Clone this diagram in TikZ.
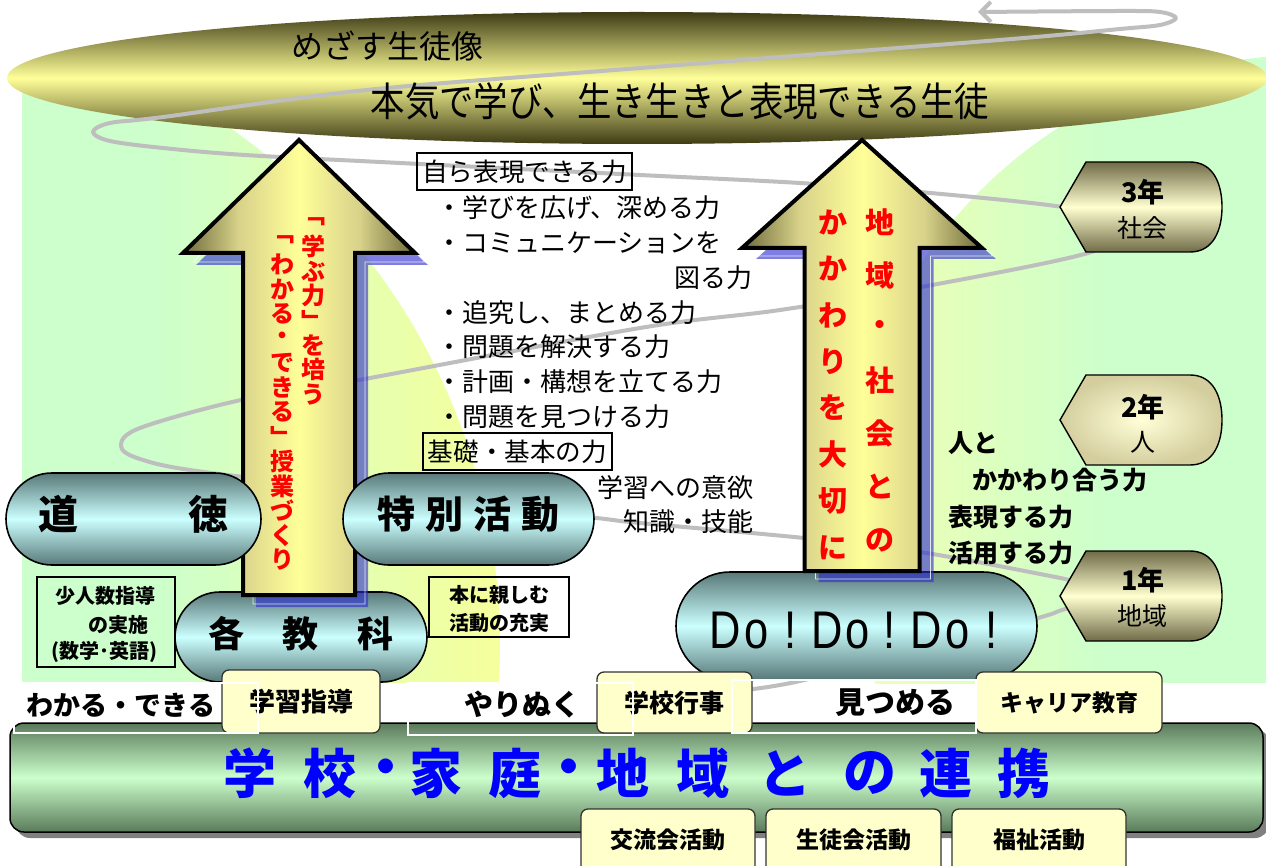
\documentclass[tikz,border=0pt]{standalone}
\usepackage{fontspec}
\usepackage{graphicx}
\setmainfont{Noto Sans CJK JP}
\newfontfamily\lat{Liberation Sans}
\usetikzlibrary{arrows.meta}
\definecolor{bgG}{HTML}{CCFFCC}
\definecolor{bgY}{HTML}{F6FF9C}
\definecolor{bgY2}{HTML}{F2FFB0}
\definecolor{ellD}{HTML}{3E3B15}
\definecolor{ellY}{HTML}{FFFF99}
\definecolor{pillD}{HTML}{587878}
\definecolor{pillL}{HTML}{CCFFFF}
\definecolor{barD}{HTML}{5A7A5A}
\definecolor{barL}{HTML}{CCFFCC}
\definecolor{tagD}{HTML}{6F6B47}
\definecolor{tagL}{HTML}{FFFFD0}
\definecolor{tagO}{HTML}{D4CE9E}
\definecolor{tagI}{HTML}{FFFFD8}
\definecolor{arD}{HTML}{6F6A3A}
\definecolor{arM}{HTML}{D8D28A}
\definecolor{arY}{HTML}{FFFF99}
\definecolor{shB}{HTML}{2A2AD0}
\definecolor{boxY}{HTML}{FFFFCC}
\definecolor{lineG}{HTML}{BEBEBE}
\definecolor{txtBlue}{HTML}{0000FF}
\pgfdeclarehorizontalshading{arrsh}{100bp}{color(0bp)=(arD); color(25bp)=(arD); color(37bp)=(arM); color(50bp)=(arY); color(63bp)=(arM); color(75bp)=(arD); color(100bp)=(arD)}
\newcommand\fsz[1]{\fontsize{#1pt}{#1pt}\selectfont}
\newcommand\tagpath[1]{(1060,#1) -- (1086,#1-45) -- (1190,#1-45) .. controls (1214,#1-45) and (1222,#1-22) .. (1222,#1) .. controls (1222,#1+22) and (1214,#1+45) .. (1190,#1+45) -- (1086,#1+45) -- cycle}
\newcommand\uparrowpath[6]{(#1,#2) -- (#1+#3,#4) -- (#1+#5,#4) -- (#1+#5,#6) -- (#1-#5,#6) -- (#1-#5,#4) -- (#1-#3,#4) -- cycle}
\begin{document}
\begin{tikzpicture}[x=1pt,y=-1pt,
  txt/.style={inner sep=0pt, outer sep=0pt},
  pill/.style={draw=black, line width=1.6pt, top color=pillD, bottom color=pillD, middle color=pillL, inner sep=0pt},
  tagA/.style={draw=black, line width=1.4pt, top color=tagD, bottom color=tagD, middle color=tagL},
  tagB/.style={draw=black, line width=1.4pt, inner color=tagI, outer color=tagO},
  ybox/.style={draw=black!80, line width=1.3pt, fill=boxY, rounded corners=7pt, inner sep=0pt},
  kbox/.style={draw=black, line width=1.6pt, inner sep=0pt},
  wbox/.style={draw=white, line width=1.5pt, inner sep=0pt},
  redv/.style={text=red, inner sep=0pt, font=\bfseries},
  spiral/.style={draw=lineG, line width=4pt, line cap=round, line join=round},
  shadowpath/.style={fill=shB, fill opacity=0.6},
  shadowline/.style={draw=white, line width=0.7pt, opacity=0.8},
  arrowbody/.style={shading=arrsh, draw=black, line width=4pt, line join=miter},
]
\useasboundingbox (0,0) rectangle (1266,866);
\fill[white] (0,0) rectangle (1266,866);

% background regions
\begin{scope}
\clip (-130,645) circle (630pt);
\fill[bgG] (22,70) rectangle (150,682);
\shade[left color=bgG, right color=bgY] (150,70) rectangle (500,682);
\end{scope}
\begin{scope}
\clip (1308,518) circle (463pt);
\fill[bgG] (845,40) rectangle (1266,683);
\shade[left color=bgY2, right color=bgG] (845,40) rectangle (1110,683);
\end{scope}

% top ellipse
\shade[top color=ellD, bottom color=ellD, middle color=ellY] (637,78) ellipse [x radius=630pt, y radius=66pt];

% spiral line
\draw[spiral, -{Straight Barb[length=10pt,width=20pt]}] plot[smooth, tension=0.55] coordinates {(745,690) (800,681) (920,650) (1038,618) (1062,610) (1100,598) (1078,583) (1040,574) (920,552) (804,538) (640,523) (597,518) (420,497) (204,472) (140,459) (121,446) (140,428) (241,400) (359,380) (640,328) (780,310) (932,285) (1088,253) (1120,230) (1075,209) (920,192) (800,183) (640,175) (400,163) (245,155) (163,148) (110,141) (93,132) (110,123) (163,117) (367,90) (640,68) (1000,40) (1120,29) (1160,25) (1176,18) (1160,12) (1120,11) (978,12)};

% title texts
\node[txt] (goal) at (387,46) {\fsz{32}めざす生徒像};
\node[txt] (title) at (680,101) {\fsz{40}\scalebox{0.86}[1]{本気で学び、生き生きと表現できる生徒}};

% pills under the arrows
\node[pill, minimum width=252pt, minimum height=90pt, rounded corners=45pt] (kaku) at (301,637) {};
\node[pill, minimum width=361pt, minimum height=108pt, rounded corners=54pt] (dodo) at (856.5,626) {};

% arrows
\fill[shadowpath, shift={(13,12)}] \uparrowpath{299}{140}{116}{253}{56}{595};
\draw[shadowline, shift={(10,9)}] \uparrowpath{299}{140}{116}{253}{56}{595};
\shadedraw[arrowbody] \uparrowpath{299}{140}{116}{253}{56}{595};
\fill[shadowpath, shift={(14,11)}] \uparrowpath{862}{140}{120}{248}{57.5}{571};
\draw[shadowline, shift={(11,8)}] \uparrowpath{862}{140}{120}{248}{57.5}{571};
\shadedraw[arrowbody] \uparrowpath{862}{140}{120}{248}{57.5}{571};

% red vertical texts
\foreach \ch [count=\i from 0] in {﹁,学,ぶ,力,﹂,を,培,う}
  \node[redv] (lr\i) at (313,222+24.6*\i) {\fsz{24}\ch};
\foreach \ch [count=\i from 0] in {﹁,わ,か,る,・,で,き,る,﹂,授,業,づ,く,り}
  \node[redv] (ll\i) at (282,240+24.6*\i) {\fsz{24}\ch};
\foreach \ch [count=\i from 0] in {か,か,わ,り,を,大,切,に}
  \node[redv] (rl\i) at (833,222+46.5*\i) {\fsz{29}\ch};
\foreach \ch [count=\i from 0] in {地,域,・,社,会,と,の}
  \node[redv] (rr\i) at (880,222+53*\i) {\fsz{29}\ch};

% pills over the arrows
\node[pill, minimum width=255pt, minimum height=92pt, rounded corners=46pt] (doutoku) at (133.5,519) {};
\node[pill, minimum width=251pt, minimum height=92pt, rounded corners=46pt] (tokkatsu) at (468.5,519) {};
\node[txt] (tdoutoku) at (133.5,514) {\fsz{40}\bfseries 道\hspace{110pt}徳};
\node[txt] (ttokkatsu) at (468.5,514) {\fsz{38}\bfseries 特\hspace{10pt}別\hspace{10pt}活\hspace{10pt}動};
\node[txt] (tkaku) at (301,634) {\fsz{36}\bfseries 各\hspace{39pt}教\hspace{39pt}科};
\foreach \ch/\x [count=\i] in {D/725,o/757,!/791,D/827,o/858,!/890,D/926,o/958,!/992}
  \node[txt, anchor=base] (do\i) at (\x,648) {\lat\fsz{53}\scalebox{0.82}[1]{\ch}};

% year tags
\path[tagA] \tagpath{207};
\path[tagB] \tagpath{420};
\path[tagA] \tagpath{596};
\node[txt] (y3a) at (1143,192) {\fsz{27}\bfseries 3年};
\node[txt] (y3b) at (1142,228) {\fsz{25}社会};
\node[txt] (y2a) at (1143,407) {\fsz{27}\bfseries 2年};
\node[txt] (y2b) at (1143,442) {\fsz{25}人};
\node[txt] (y1a) at (1143,580) {\fsz{27}\bfseries 1年};
\node[txt] (y1b) at (1142,616) {\fsz{25}地域};

% middle texts
\node[kbox, minimum width=215pt, minimum height=37pt] (jiko) at (524.5,171.5) {\fsz{25.6}自ら表現できる力};
\node[kbox, minimum width=189pt, minimum height=37pt] (kiso) at (517.5,451.5) {\fsz{25.6}基礎・基本の力};
\foreach \t/\y [count=\i] in {・学びを広げ、深める力/208, ・コミュニケーションを/243, ・追究し、まとめる力/313, ・問題を解決する力/347, ・計画・構想を立てる力/382, ・問題を見つける力/417}
  \node[txt, anchor=west] (bl\i) at (436,\y) {\fsz{26}\t};
\node[txt, anchor=east] (hakaru) at (752,278) {\fsz{26}図る力};
\node[txt, anchor=east] (iyoku) at (753,488) {\fsz{26}学習への意欲};
\node[txt, anchor=east] (chishiki) at (753,522) {\fsz{26}知識・技能};
\node[txt, anchor=west] (hito) at (948,443) {\fsz{25}\bfseries 人と};
\node[txt, anchor=west] (kakawari) at (972,480) {\fsz{25}\bfseries かかわり合う力};
\node[txt, anchor=west] (hyougen) at (948,517) {\fsz{25}\bfseries 表現する力};
\node[txt, anchor=west] (katsuyou) at (948,553) {\fsz{25}\bfseries 活用する力};

% small framed boxes
\node[kbox, line width=1.3pt, minimum width=138pt, minimum height=90pt] (shoninzu) at (106,622) {};
\node[txt] (sh1) at (105,596) {\fsz{20}\bfseries 少人数指導};
\node[txt] (sh2) at (118,625) {\fsz{20}\bfseries の実施};
\node[txt] (sh3) at (104,652) {\fsz{20}\bfseries (数学･英語)};
\node[kbox, line width=1.3pt, minimum width=140pt, minimum height=60pt] (hon) at (499,607) {};
\node[txt] (hon1) at (499,595) {\fsz{20}\bfseries 本に親しむ};
\node[txt] (hon2) at (499,623) {\fsz{20}\bfseries 活動の充実};

% bottom bar
\fill[black!50, rounded corners=14pt] (16,729) rectangle (1269,838);
\node[draw=black, line width=1.5pt, top color=barD, bottom color=barD, middle color=barL, rounded corners=14pt, minimum width=1253pt, minimum height=109pt, inner sep=0pt] (bar) at (636.5,777.5) {};
\foreach \ch/\x [count=\i] in {学/250,校/330,・/386,家/436,庭/515,・/569,地/623,域/703,と/785,の/870,連/946,携/1024}
  \node[txt, text=txtBlue] (bt\i) at (\x,773) {\fsz{53}\bfseries\ch};

% yellow boxes
\node[ybox, minimum width=158pt, minimum height=63pt] (gakushu) at (301,701.5) {\fsz{26}\bfseries 学習指導};
\node[ybox, minimum width=155pt, minimum height=61pt] (gyouji) at (674.5,702.5) {\fsz{25}\bfseries 学校行事};
\node[ybox, minimum width=186pt, minimum height=61pt] (career) at (1069,702.5) {\fsz{23}\bfseries キャリア教育};
\node[ybox, minimum width=174pt, minimum height=71pt] (kouryu) at (668,844.5) {};
\node[ybox, minimum width=175pt, minimum height=71pt] (seito) at (853.5,844.5) {};
\node[ybox, minimum width=174pt, minimum height=71pt] (fukushi) at (1039,844.5) {};
\node[txt] (tkouryu) at (668,840) {\fsz{23}\bfseries 交流会活動};
\node[txt] (tseito) at (853.5,840) {\fsz{23}\bfseries 生徒会活動};
\node[txt] (tfukushi) at (1039,840) {\fsz{23}\bfseries 福祉活動};

% white outline boxes and labels
\node[wbox, minimum width=244pt, minimum height=50pt] (wb1) at (136,708) {};
\node[wbox, minimum width=225pt, minimum height=52pt] (wb2) at (520.5,709) {};
\node[wbox, minimum width=244pt, minimum height=53pt] (wb3) at (854,706.5) {};
\node[txt] (wakaru) at (121,705) {\fsz{27}\bfseries わかる・できる};
\node[txt] (yarinuku) at (522,705) {\fsz{29}\bfseries やりぬく};
\node[txt] (mitsumeru) at (895,703) {\fsz{30}\bfseries 見つめる};
\end{tikzpicture}
\end{document}
